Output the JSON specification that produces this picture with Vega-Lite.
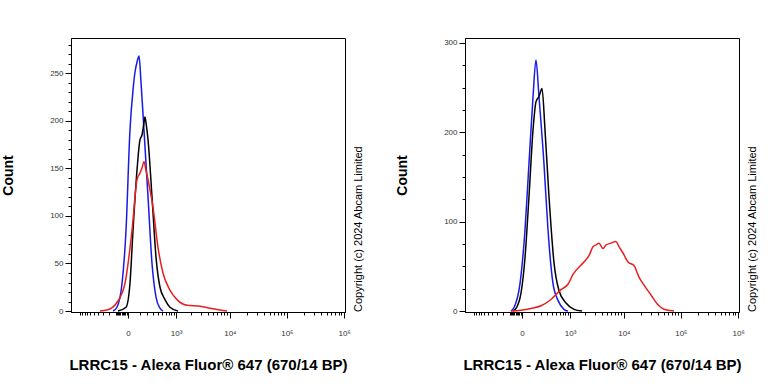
{
 "$schema": "https://vega.github.io/schema/vega-lite/v6.json",
 "background": "white",
 "padding": {"left": 1, "top": 37, "right": 2, "bottom": 2},
 "spacing": 30,
 "config": {
  "view": {"stroke": "black", "strokeWidth": 1},
  "font": "Liberation Sans",
  "axis": {"grid": false, "domainColor": "black", "domainWidth": 1, "tickColor": "black", "tickWidth": 1, "labelColor": "#333", "labelFontSize": 8, "labelOverlap": false, "titleColor": "black", "titleFontWeight": "bold", "titleFont": "Liberation Sans"},
  "title": {"font": "Liberation Sans"}
 },
 "datasets": {
  "h": [
   {"p":"A","s":"blue","fl":-140,"count":0},{"p":"A","s":"blue","fl":-95,"count":4},{"p":"A","s":"blue","fl":-46,"count":29},{"p":"A","s":"blue","fl":-14,"count":85},{"p":"A","s":"blue","fl":14,"count":190},{"p":"A","s":"blue","fl":40,"count":235},{"p":"A","s":"blue","fl":55,"count":251},{"p":"A","s":"blue","fl":75,"count":262},{"p":"A","s":"blue","fl":95,"count":268},{"p":"A","s":"blue","fl":117,"count":240},{"p":"A","s":"blue","fl":140,"count":208},{"p":"A","s":"blue","fl":210,"count":120},{"p":"A","s":"blue","fl":276,"count":50},{"p":"A","s":"blue","fl":353,"count":15},{"p":"A","s":"blue","fl":445,"count":3},{"p":"A","s":"blue","fl":523,"count":0},
   {"p":"A","s":"black","fl":-84,"count":0},{"p":"A","s":"black","fl":-14,"count":4},{"p":"A","s":"black","fl":14,"count":29},{"p":"A","s":"black","fl":38,"count":85},{"p":"A","s":"black","fl":74,"count":148},{"p":"A","s":"black","fl":105,"count":180},{"p":"A","s":"black","fl":128,"count":185},{"p":"A","s":"black","fl":153,"count":198},{"p":"A","s":"black","fl":166,"count":204},{"p":"A","s":"black","fl":180,"count":198},{"p":"A","s":"black","fl":210,"count":180},{"p":"A","s":"black","fl":276,"count":120},{"p":"A","s":"black","fl":353,"count":57},{"p":"A","s":"black","fl":445,"count":25},{"p":"A","s":"black","fl":581,"count":12},{"p":"A","s":"black","fl":748,"count":4},{"p":"A","s":"black","fl":1096,"count":0},
   {"p":"A","s":"red","fl":-353,"count":0},{"p":"A","s":"red","fl":-225,"count":1},{"p":"A","s":"red","fl":-95,"count":9},{"p":"A","s":"red","fl":-22,"count":29},{"p":"A","s":"red","fl":30,"count":85},{"p":"A","s":"red","fl":74,"count":138},{"p":"A","s":"red","fl":105,"count":145},{"p":"A","s":"red","fl":128,"count":150},{"p":"A","s":"red","fl":153,"count":157},{"p":"A","s":"red","fl":180,"count":148},{"p":"A","s":"red","fl":210,"count":138},{"p":"A","s":"red","fl":294,"count":109},{"p":"A","s":"red","fl":397,"count":67},{"p":"A","s":"red","fl":523,"count":40},{"p":"A","s":"red","fl":748,"count":22},{"p":"A","s":"red","fl":1047,"count":12},{"p":"A","s":"red","fl":1647,"count":6},{"p":"A","s":"red","fl":2894,"count":5},{"p":"A","s":"red","fl":4404,"count":3},{"p":"A","s":"red","fl":6670,"count":1},{"p":"A","s":"red","fl":8890,"count":0},
   {"p":"B","s":"blue","fl":-95,"count":0},{"p":"B","s":"blue","fl":-64,"count":4},{"p":"B","s":"blue","fl":-14,"count":31},{"p":"B","s":"blue","fl":22,"count":91},{"p":"B","s":"blue","fl":55,"count":165},{"p":"B","s":"blue","fl":95,"count":240},{"p":"B","s":"blue","fl":128,"count":281},{"p":"B","s":"blue","fl":166,"count":240},{"p":"B","s":"blue","fl":241,"count":165},{"p":"B","s":"blue","fl":313,"count":91},{"p":"B","s":"blue","fl":420,"count":31},{"p":"B","s":"blue","fl":552,"count":12},{"p":"B","s":"blue","fl":748,"count":2},{"p":"B","s":"blue","fl":908,"count":0},
   {"p":"B","s":"black","fl":-74,"count":0},{"p":"B","s":"black","fl":-46,"count":3},{"p":"B","s":"black","fl":-7,"count":20},{"p":"B","s":"black","fl":22,"count":60},{"p":"B","s":"black","fl":55,"count":128},{"p":"B","s":"black","fl":95,"count":203},{"p":"B","s":"black","fl":128,"count":234},{"p":"B","s":"black","fl":166,"count":240},{"p":"B","s":"black","fl":210,"count":249},{"p":"B","s":"black","fl":258,"count":203},{"p":"B","s":"black","fl":333,"count":128},{"p":"B","s":"black","fl":445,"count":54},{"p":"B","s":"black","fl":581,"count":23},{"p":"B","s":"black","fl":825,"count":9},{"p":"B","s":"black","fl":1202,"count":2},{"p":"B","s":"black","fl":1722,"count":0},
   {"p":"B","s":"red","fl":-95,"count":0},{"p":"B","s":"red","fl":-7,"count":1},{"p":"B","s":"red","fl":74,"count":3},{"p":"B","s":"red","fl":195,"count":6},{"p":"B","s":"red","fl":375,"count":13},{"p":"B","s":"red","fl":644,"count":24},{"p":"B","s":"red","fl":908,"count":30},{"p":"B","s":"red","fl":1148,"count":41},{"p":"B","s":"red","fl":1880,"count":55},{"p":"B","s":"red","fl":2336,"count":62},{"p":"B","s":"red","fl":2773,"count":72},{"p":"B","s":"red","fl":3150,"count":74},{"p":"B","s":"red","fl":3574,"count":76},{"p":"B","s":"red","fl":4228,"count":70},{"p":"B","s":"red","fl":4789,"count":74},{"p":"B","s":"red","fl":5894,"count":76},{"p":"B","s":"red","fl":7243,"count":78},{"p":"B","s":"red","fl":8194,"count":72},{"p":"B","s":"red","fl":9640,"count":65},{"p":"B","s":"red","fl":11830,"count":55},{"p":"B","s":"red","fl":15100,"count":51},{"p":"B","s":"red","fl":18500,"count":38},{"p":"B","s":"red","fl":22660,"count":29},{"p":"B","s":"red","fl":30040,"count":18},{"p":"B","s":"red","fl":39870,"count":7},{"p":"B","s":"red","fl":50660,"count":2},{"p":"B","s":"red","fl":75700,"count":0}
  ]
 },
 "hconcat": [
  {
   "width": 274, "height": 274,
   "data": {"name": "h"},
   "transform": [{"filter": "datum.p === 'A'"}],
   "title": {"text": "Copyright (c) 2024 Abcam Limited", "orient": "right", "anchor": "end", "align": "left", "angle": -90, "frame": "group", "fontSize": 11, "fontWeight": "normal", "color": "black", "offset": -8},
   "mark": {"type": "line", "strokeWidth": 1.5, "interpolate": "monotone"},
   "encoding": {
    "x": {"field": "fl", "type": "quantitative",
     "scale": {"type": "symlog", "constant": 170, "domain": [-1507, 1036000], "nice": false, "zero": false},
     "axis": {"title": "LRRC15 - Alexa Fluor® 647 (670/14 BP)", "titleFontSize": 15, "titlePadding": 20,
      "values": [-1000,-900,-800,-700,-600,-500,-400,-300,-200,-100,-90,-80,-70,-60,-50,-40,-30,-20,-10,0,100,200,300,400,500,600,700,800,900,1000,2000,3000,4000,5000,6000,7000,8000,9000,10000,20000,30000,40000,50000,60000,70000,80000,90000,100000,200000,300000,400000,500000,600000,700000,800000,900000,1000000],
      "labelExpr": "datum.value === 0 ? '0' : datum.value === 1000 ? '10³' : datum.value === 10000 ? '10⁴' : datum.value === 100000 ? '10⁵' : datum.value === 1000000 ? '10⁶' : ''",
      "labelFlush": false, "labelPadding": 11,
      "tickSize": {"condition": {"test": "datum.value === 0 || datum.value === 1000 || datum.value === 10000 || datum.value === 100000 || datum.value === 1000000", "value": 6}, "value": 3}}},
    "y": {"field": "count", "type": "quantitative",
     "scale": {"domain": [-1, 287], "nice": false, "zero": false},
     "axis": {"title": "Count", "titleFontSize": 14, "titlePadding": 34,
      "values": [0,10,20,30,40,50,60,70,80,90,100,110,120,130,140,150,160,170,180,190,200,210,220,230,240,250,260,270,280],
      "labelExpr": "datum.value % 50 === 0 ? datum.label : ''",
      "tickSize": {"condition": {"test": "datum.value % 50 === 0", "value": 6}, "value": 3}}},
    "color": {"field": "s", "type": "nominal", "scale": {"domain": ["blue", "black", "red"], "range": ["#1a1ae6", "#000000", "#e62020"]}, "legend": null}
   }
  },
  {
   "width": 274, "height": 274,
   "data": {"name": "h"},
   "transform": [{"filter": "datum.p === 'B'"}],
   "title": {"text": "Copyright (c) 2024 Abcam Limited", "orient": "right", "anchor": "end", "align": "left", "angle": -90, "frame": "group", "fontSize": 11, "fontWeight": "normal", "color": "black", "offset": -8},
   "mark": {"type": "line", "strokeWidth": 1.5, "interpolate": "monotone"},
   "encoding": {
    "x": {"field": "fl", "type": "quantitative",
     "scale": {"type": "symlog", "constant": 170, "domain": [-1507, 1036000], "nice": false, "zero": false},
     "axis": {"title": "LRRC15 - Alexa Fluor® 647 (670/14 BP)", "titleFontSize": 15, "titlePadding": 20,
      "values": [-1000,-900,-800,-700,-600,-500,-400,-300,-200,-100,-90,-80,-70,-60,-50,-40,-30,-20,-10,0,100,200,300,400,500,600,700,800,900,1000,2000,3000,4000,5000,6000,7000,8000,9000,10000,20000,30000,40000,50000,60000,70000,80000,90000,100000,200000,300000,400000,500000,600000,700000,800000,900000,1000000],
      "labelExpr": "datum.value === 0 ? '0' : datum.value === 1000 ? '10³' : datum.value === 10000 ? '10⁴' : datum.value === 100000 ? '10⁵' : datum.value === 1000000 ? '10⁶' : ''",
      "labelFlush": false, "labelPadding": 11,
      "tickSize": {"condition": {"test": "datum.value === 0 || datum.value === 1000 || datum.value === 10000 || datum.value === 100000 || datum.value === 1000000", "value": 6}, "value": 3}}},
    "y": {"field": "count", "type": "quantitative",
     "scale": {"domain": [-1, 305.5], "nice": false, "zero": false},
     "axis": {"title": "Count", "titleFontSize": 14, "titlePadding": 34,
      "values": [0,25,50,75,100,125,150,175,200,225,250,275,300],
      "labelExpr": "datum.value % 100 === 0 ? datum.label : ''",
      "tickSize": {"condition": {"test": "datum.value % 100 === 0", "value": 6}, "value": 3}}},
    "color": {"field": "s", "type": "nominal", "scale": {"domain": ["blue", "black", "red"], "range": ["#1a1ae6", "#000000", "#e62020"]}, "legend": null}
   }
  }
 ]
}
